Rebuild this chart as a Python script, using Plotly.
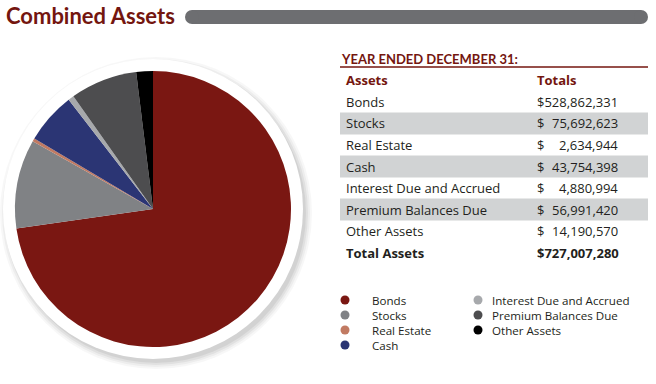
import plotly.graph_objects as go

W, H = 656, 384

categories = ["Bonds", "Stocks", "Real Estate", "Cash", "Interest Due and Accrued",
              "Premium Balances Due", "Other Assets"]
values = [528862331, 75692623, 2634944, 43754398, 4880994, 56991420, 14190570]
total_value = 727007280
colors = ["#7a1712", "#808285", "#c17a62", "#2b3574", "#a7a9ac", "#4d4d4f", "#000000"]

title_text = "Combined Assets"
table_title = "YEAR ENDED DECEMBER 31:"
col_headers = ["Assets", "Totals"]
total_label = "Total Assets"
legend_col1 = ["Bonds", "Stocks", "Real Estate", "Cash"]
legend_col2 = ["Interest Due and Accrued", "Premium Balances Due", "Other Assets"]

DARK_RED = "#74160f"
TEXT = "#231f20"
BAND = "#d1d3d4"
FONT = "Open Sans"
TFONT = "Lato"
TS = 13


def px(x):
    return x / W


def py(y):
    return 1 - y / H


fig = go.Figure()

# pie
cx, cy, r = 153, 209, 138
fig.add_trace(go.Pie(
    labels=categories, values=values, sort=False, direction="clockwise",
    marker=dict(colors=colors, line=dict(width=0)),
    textinfo="none", hoverinfo="label+value+percent", showlegend=False,
    domain=dict(x=[px(cx - r), px(cx + r)], y=[py(cy + r), py(cy - r)]),
))

shapes = []
# soft shadow + white ring behind the pie
for d, a in [(6, 0.03), (4, 0.04), (2, 0.05), (0, 0.06)]:
    R = 150 + d
    ox, oy = 3, 4
    shapes.append(dict(type="circle", xref="paper", yref="paper", layer="below",
                       x0=px(cx + ox - R), x1=px(cx + ox + R),
                       y0=py(cy + oy + R), y1=py(cy + oy - R),
                       fillcolor=f"rgba(0,0,0,{a})", line=dict(width=0)))
shapes.append(dict(type="circle", xref="paper", yref="paper", layer="below",
                   x0=px(cx - 150), x1=px(cx + 150), y0=py(cy + 150), y1=py(cy - 150),
                   fillcolor="white", line=dict(width=0)))

# title bar
shapes.append(dict(type="line", xref="paper", yref="paper",
                   x0=px(192), x1=px(641), y0=py(17), y1=py(17),
                   line=dict(color="#6d6e71", width=14)))
for xx in (192, 641):
    shapes.append(dict(type="circle", xref="paper", yref="paper",
                       x0=px(xx - 7), x1=px(xx + 7), y0=py(24), y1=py(10),
                       fillcolor="#6d6e71", line=dict(width=0)))

# table
row_y = [102, 123.5, 145, 166.5, 188, 209.5, 231, 253]
tx0, tx1 = 340, 648
shapes.append(dict(type="line", xref="paper", yref="paper",
                   x0=px(tx0), x1=px(tx1), y0=py(67), y1=py(67),
                   line=dict(color=DARK_RED, width=1.5)))
for i in (1, 3, 5):
    shapes.append(dict(type="rect", xref="paper", yref="paper", layer="below",
                       x0=px(tx0), x1=px(tx1), y0=py(row_y[i] + 11), y1=py(row_y[i] - 11),
                       fillcolor=BAND, line=dict(width=0)))

ann = []


def add_text(x, y, text, size, color=TEXT, anchor="left", bold=False, family=FONT):
    if bold:
        text = f"<b>{text}</b>"
    ann.append(dict(x=px(x), y=py(y), xref="paper", yref="paper", text=text,
                    showarrow=False, xanchor=anchor, yanchor="middle", borderpad=0,
                    font=dict(family=family, size=size, color=color)))


def add_amount(y, v, bold=False):
    if v >= 100_000_000:
        add_text(536, y, f"${v:,}", TS, bold=bold)
    else:
        add_text(536, y, "$", TS, bold=bold)
        add_text(619, y, f"{v:,}", TS, anchor="right", bold=bold)


add_text(5, 16, title_text, 22, DARK_RED, bold=True, family=TFONT)
add_text(340, 59, table_title, 13, DARK_RED, bold=True, family=TFONT)
add_text(345, 80, col_headers[0], TS, DARK_RED, bold=True)
add_text(536, 80, col_headers[1], TS, DARK_RED, bold=True)

for i, (lab, v) in enumerate(zip(categories, values)):
    add_text(345, row_y[i], lab, TS)
    add_amount(row_y[i], v)
add_text(345, row_y[7], total_label, TS, bold=True)
add_amount(row_y[7], total_value, bold=True)

# legend
leg_x, leg_y, leg_c = [], [], []
for i, lab in enumerate(legend_col1):
    y = 300 + i * 15
    leg_x.append(345); leg_y.append(y); leg_c.append(colors[categories.index(lab)])
    add_text(371, y, lab, 11.6)
for i, lab in enumerate(legend_col2):
    y = 300 + i * 15
    leg_x.append(478); leg_y.append(y); leg_c.append(colors[categories.index(lab)])
    add_text(491, y, lab, 11.6)

fig.add_trace(go.Scatter(x=leg_x, y=leg_y, mode="markers", showlegend=False,
                         hoverinfo="skip",
                         marker=dict(size=9, color=leg_c, line=dict(width=0)),
                         xaxis="x", yaxis="y"))

fig.update_layout(
    width=W, height=H, margin=dict(l=0, r=0, t=0, b=0),
    paper_bgcolor="white", plot_bgcolor="rgba(0,0,0,0)",
    xaxis=dict(range=[0, W], visible=False, domain=[0, 1], fixedrange=True),
    yaxis=dict(range=[H, 0], visible=False, domain=[0, 1], fixedrange=True),
    shapes=shapes, annotations=ann,
)

fig.write_html("out.html")
